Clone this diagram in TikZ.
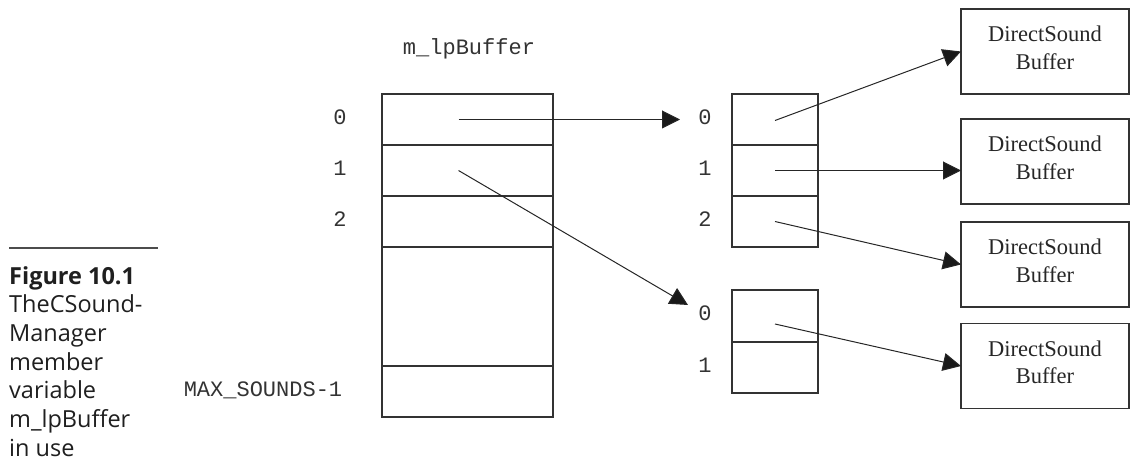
\documentclass[tikz,border=0pt]{standalone}
\usepackage{fontspec}
\setmainfont{Liberation Serif}
\setmonofont{Liberation Mono}
\newfontfamily\capfont{Open Sans}
\usetikzlibrary{arrows.meta}

\begin{document}
\begin{tikzpicture}[x=1bp,y=-1bp,
  cell/.style={draw=black!80,line width=1.2bp,inner sep=0,outer sep=0},
  mcell/.style={cell,minimum width=171bp,minimum height=51bp},
  scell/.style={cell,minimum width=86bp,minimum height=51bp},
  dsbox/.style={cell,minimum width=168bp,minimum height=85bp},
  dstext/.style={align=center,inner sep=0,
    font=\fontsize{22.5bp}{27.5bp}\selectfont,text=black!85},
  idx/.style={inner sep=0,font=\ttfamily\fontsize{22bp}{26bp}\selectfont,text=black!80},
  ptr/.style={line width=1bp,draw=black!85,
    -{Triangle[length=18bp,width=18bp,fill=black!90]}},
]
\useasboundingbox (0,0) rectangle (1131,464);

% the m_lpBuffer array
\node[idx,anchor=base] (title) at (469,55) {m\_lpBuffer};
\node[mcell] (m0) at (467.5,119.5) {};
\node[mcell] (m1) at (467.5,170.5) {};
\node[mcell] (m2) at (467.5,221.5) {};
\node[cell,minimum width=171bp,minimum height=119bp] (mgap) at (467.5,306.5) {};
\node[mcell] (mlast) at (467.5,391.5) {};
\node[idx] (lm0) at (340,117.5) {0};
\node[idx] (lm1) at (340,168.5) {1};
\node[idx] (lm2) at (340,219.5) {2};
\node[idx,anchor=base] (lmax) at (263,397) {MAX\_SOUNDS-1};

% first sound: three buffers
\node[scell] (a0) at (775,119.5) {};
\node[scell] (a1) at (775,170.5) {};
\node[scell] (a2) at (775,221.5) {};
\node[idx] (la0) at (705,117.5) {0};
\node[idx] (la1) at (705,168.5) {1};
\node[idx] (la2) at (705,219.5) {2};

% second sound: two buffers
\node[scell,minimum height=52bp] (b0) at (775,316) {};
\node[scell] (b1) at (775,367.5) {};
\node[idx] (lb0) at (705,313) {0};
\node[idx] (lb1) at (705,365) {1};

% DirectSound buffers
\foreach \n/\y in {1/51.5,2/161.5,3/264.5,4/366}{
  \node[dsbox] (ds\n) at (1045,\y) {};
  \node[dstext] (dst\n) at ([yshift=3.5bp]ds\n.center) {DirectSound\\Buffer};
}

% pointers
\coordinate (tA) at (680,119.5);
\coordinate (tB) at (688,305);
\draw[ptr] ([xshift=-9bp]m0.center) -- (tA);
\draw[ptr] ([xshift=-9bp]m1.center) -- (tB);
\draw[ptr] ([yshift=-1bp]a0.center) -- (ds1.west);
\draw[ptr] (a1.center) -- (a1.center -| ds2.west);
\draw[ptr] (a2.center) -- (ds3.west);
\draw[ptr] ([yshift=-8bp]b0.center) -- (ds4.west);

% caption
\draw[line width=2bp,black!70] (9,248) -- (158,248);
\node[anchor=north west,align=left,inner sep=0,text=black!88,
  font=\capfont\fontsize{23.5bp}{28.7bp}\selectfont] (cap) at (9,266)
  {\textbf{Figure 10.1}\\TheCSound-\\Manager\\member\\variable\\m\_lpBuffer\\in use};
\end{tikzpicture}
\end{document}
